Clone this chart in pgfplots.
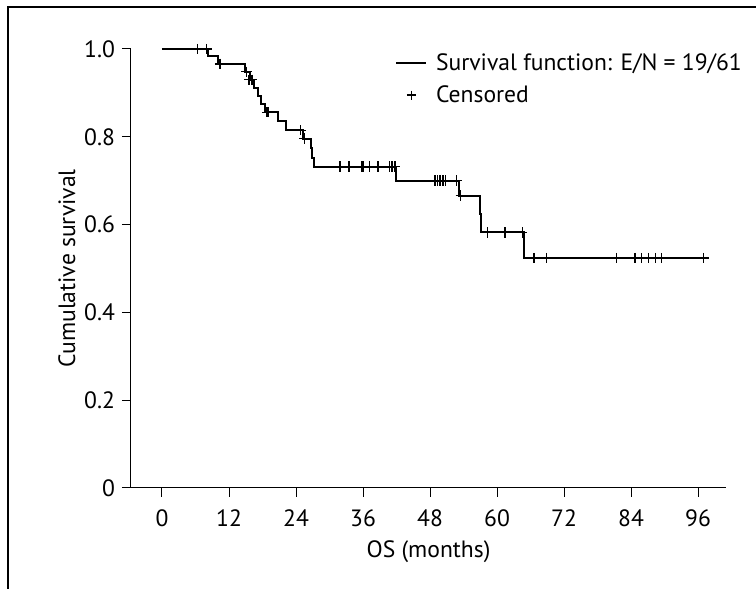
\documentclass[border=0pt]{standalone}
\usepackage{fontspec}
\setmainfont{PT Sans}
\usepackage{pgfplots}
\pgfplotsset{compat=1.18}
\pgfplotsset{
  kmline legend/.style={legend image code/.code={\draw[line width=0.9pt] (0pt,0pt) -- (15pt,0pt);}},
  censor legend/.style={legend image code/.code={\draw[##1, mark size=2.2pt] plot coordinates {(7.5pt,0pt)};}},
}

% Kaplan-Meier steps: (time, S(t) after the event)
\pgfplotstableread{
t s
0 1.000
8.2 0.983
10.0 0.966
14.9 0.948
15.7 0.930
16.4 0.912
17.2 0.894
17.8 0.875
18.5 0.856
20.7 0.837
22.2 0.815
25.2 0.796
26.6 0.774
26.9 0.752
27.3 0.732
41.9 0.700
53.2 0.666
56.9 0.624
57.1 0.582
64.8 0.524
97.0 0.524
}\kmsteps

% censored observations
\pgfplotstableread{
t s
6.4 1.000
8.0 1.000
10.4 0.966
15.1 0.948
15.6 0.930
16.1 0.930
18.8 0.856
19.1 0.856
24.8 0.815
25.5 0.796
31.9 0.732
33.5 0.732
35.8 0.732
36.1 0.732
37.2 0.732
38.7 0.732
40.7 0.732
41.2 0.732
41.7 0.732
48.9 0.700
49.3 0.700
49.8 0.700
50.3 0.700
50.8 0.700
52.8 0.700
53.5 0.666
58.3 0.582
61.3 0.582
61.5 0.582
64.5 0.582
66.6 0.524
68.9 0.524
81.4 0.524
84.7 0.524
85.9 0.524
87.1 0.524
88.4 0.524
89.5 0.524
97.0 0.524
}\censored

\begin{document}
\begin{tikzpicture}
\useasboundingbox (-65.5pt,-50.5pt) rectangle (312.5pt,244pt);
\draw[line width=1pt] (-61.5pt,-51pt) -- (-61.5pt,240.5pt) -- (313pt,240.5pt);
\begin{axis}[
  scale only axis, width=297.5pt, height=219.5pt,
  at={(0,0)}, anchor=south west,
  xmin=-5.55, xmax=101, ymin=0, ymax=1,
  axis x line*=bottom, axis y line*=left,
  axis line style={-, line width=0.5pt},
  xtick={0,12,24,36,48,60,72,84,96},
  ytick={0,0.2,0.4,0.6,0.8,1.0},
  yticklabels={0,0.2,0.4,0.6,0.8,1.0},
  tick align=outside, major tick length=4.5pt,
  tick style={line width=0.5pt, black},
  /pgf/number format/assume math mode=true,
  tick label style={font=\fontsize{11.8}{14}\selectfont},
  xticklabel style={yshift=-3pt},
  label style={font=\fontsize{11.8}{14}\selectfont},
  xlabel={OS (months)},
  ylabel={Cumulative survival},
  ylabel shift=-2.5pt,
  clip=false,
  legend style={at={(axis cs:41.7,1.0)}, anchor=north west, draw=none, fill=none,
    inner sep=0pt, row sep=2pt, column sep=2.5pt, font=\fontsize{11.8}{14}\selectfont},
  legend cell align=left,
]
\addplot[const plot, line width=1pt, black, kmline legend]
  table[x=t, y=s] {\kmsteps};
\addlegendentry{Survival function: E/N = 19/61}
\addplot[only marks, mark=+, mark size=2.6pt, black, mark options={line width=0.65pt}, censor legend]
  table[x=t, y=s] {\censored};
\addlegendentry{Censored}
\end{axis}
\end{tikzpicture}
\end{document}
